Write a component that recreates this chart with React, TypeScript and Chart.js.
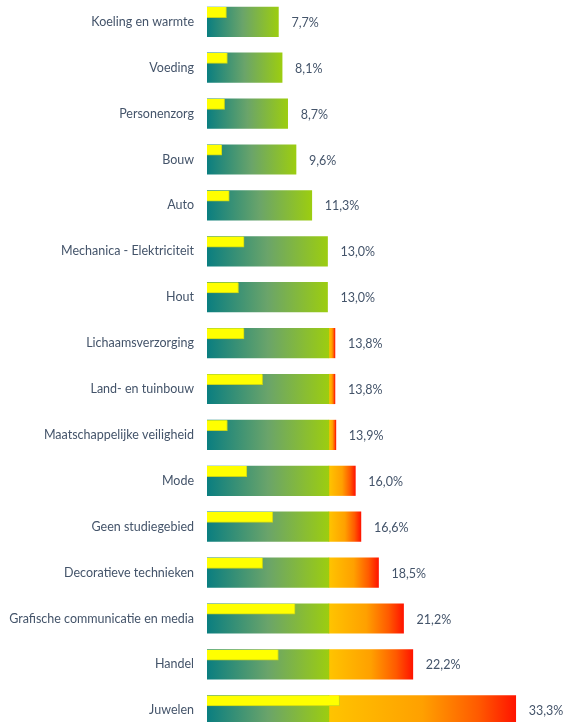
import React, { useEffect, useRef } from 'react';
import { Chart, registerables } from 'chart.js';

Chart.register(...registerables);

const categories = [
  'Koeling en warmte',
  'Voeding',
  'Personenzorg',
  'Bouw',
  'Auto',
  'Mechanica - Elektriciteit',
  'Hout',
  'Lichaamsverzorging',
  'Land- en tuinbouw',
  'Maatschappelijke veiligheid',
  'Mode',
  'Geen studiegebied',
  'Decoratieve technieken',
  'Grafische communicatie en media',
  'Handel',
  'Juwelen',
];
const totalValues = [7.7, 8.1, 8.7, 9.6, 11.3, 13.0, 13.0, 13.8, 13.8, 13.9, 16.0, 16.6, 18.5, 21.2, 22.2, 33.3];
const yellowValues = [2.1, 2.2, 1.9, 1.6, 2.4, 4.0, 3.4, 4.0, 6.0, 2.2, 4.3, 7.1, 6.0, 9.5, 7.7, 14.3];
const threshold = 13.15;

const TEXT_COLOR = '#44546A';
const FONT_FAMILY = 'Lato, "Open Sans", sans-serif';
const GREEN_STOPS: [number, string][] = [
  [0, '#0A7E80'],
  [0.5, '#6AA46A'],
  [1, '#9CCD10'],
];
const RED_STOPS: [number, string][] = [
  [0, '#FFC400'],
  [0.5, '#FFA000'],
  [0.8, '#FF5A00'],
  [1, '#FF1400'],
];

const Y_MIN = -0.475;
const Y_MAX = 15.255;
const YELLOW_SHIFT = 0.207;

function gradientFill(stops: [number, string][]) {
  return (c: any) => {
    const chart = c.chart;
    if (!chart.chartArea || c.type !== 'data' || !c.raw) return stops[stops.length - 1][1];
    const xs = chart.scales.x;
    const [a, b] = c.raw.x;
    const x0 = xs.getPixelForValue(a);
    const x1 = xs.getPixelForValue(b);
    if (!isFinite(x0) || !isFinite(x1) || x1 - x0 < 0.5) return stops[0][1];
    const g = chart.ctx.createLinearGradient(x0, 0, x1, 0);
    stops.forEach(([p, col]) => g.addColorStop(p, col));
    return g;
  };
}

const valueLabelPlugin = {
  id: 'valueLabels',
  afterDatasetsDraw(chart: any) {
    const { ctx } = chart;
    const xs = chart.scales.x;
    const ys = chart.scales.y;
    ctx.save();
    ctx.fillStyle = TEXT_COLOR;
    ctx.font = `12.5px ${FONT_FAMILY}`;
    ctx.textAlign = 'left';
    ctx.textBaseline = 'middle';
    totalValues.forEach((v, i) => {
      const x = xs.getPixelForValue(v) + 13;
      const y = ys.getPixelForValue(i) + 1;
      ctx.fillText(v.toFixed(1).replace('.', ',') + '%', x, y);
    });
    ctx.restore();
  },
};

export default function App() {
  const ref = useRef<HTMLCanvasElement>(null);
  useEffect(() => {
    const canvas = ref.current;
    if (!canvas) return;
    const greenData = totalValues.map((v, i) => ({ x: [0, Math.min(v, threshold)], y: i }));
    const redData = totalValues.flatMap((v, i) => (v > threshold ? [{ x: [threshold, v], y: i }] : []));
    const yellowData = yellowValues.map((v, i) => ({ x: [0, v], y: i - YELLOW_SHIFT }));

    const chart = new Chart(canvas, {
      type: 'bar',
      data: {
        datasets: [
          {
            label: 'yellow',
            data: yellowData as any,
            backgroundColor: '#FFFF00',
            borderColor: '#C9D418',
            borderWidth: { top: 0, left: 0, right: 1, bottom: 1 } as any,
            borderSkipped: false as any,
            barThickness: 10.5,
            grouped: false,
            order: 0,
          },
          {
            label: 'green',
            data: greenData as any,
            backgroundColor: gradientFill(GREEN_STOPS) as any,
            barThickness: 29.5,
            grouped: false,
            borderWidth: 0,
            order: 1,
          },
          {
            label: 'red',
            data: redData as any,
            backgroundColor: gradientFill(RED_STOPS) as any,
            barThickness: 29.5,
            grouped: false,
            borderWidth: 0,
            order: 1,
          },
        ],
      },
      options: {
        indexAxis: 'y',
        animation: false,
        responsive: true,
        maintainAspectRatio: false,
        layout: { padding: 0 },
        plugins: {
          legend: { display: false },
          tooltip: { enabled: false },
        },
        scales: {
          x: {
            type: 'linear',
            display: false,
            min: 0,
            max: 38.4,
          },
          y: {
            type: 'linear',
            min: Y_MIN,
            max: Y_MAX,
            offset: false,
            reverse: true,
            grid: { display: false, drawTicks: false, offset: false },
            border: { display: false },
            afterBuildTicks: (scale: any) => {
              scale.ticks = categories.map((_, i) => ({ value: i }));
            },
            afterFit: (scale: any) => {
              scale.width = 207;
              scale.paddingTop = 0;
              scale.paddingBottom = 0;
            },
            ticks: {
              autoSkip: false,
              padding: 13,
              color: TEXT_COLOR,
              font: { family: FONT_FAMILY, size: 12.5 },
              callback: (v: any) => (categories[v] !== undefined ? categories[v] : ''),
            },
          },
        },
      },
      plugins: [valueLabelPlugin],
    });
    return () => chart.destroy();
  }, []);

  return (
    <div style={{ position: 'fixed', left: 0, top: 0, width: 563, height: 722, background: '#fff' }}>
      <canvas ref={ref} />
    </div>
  );
}
